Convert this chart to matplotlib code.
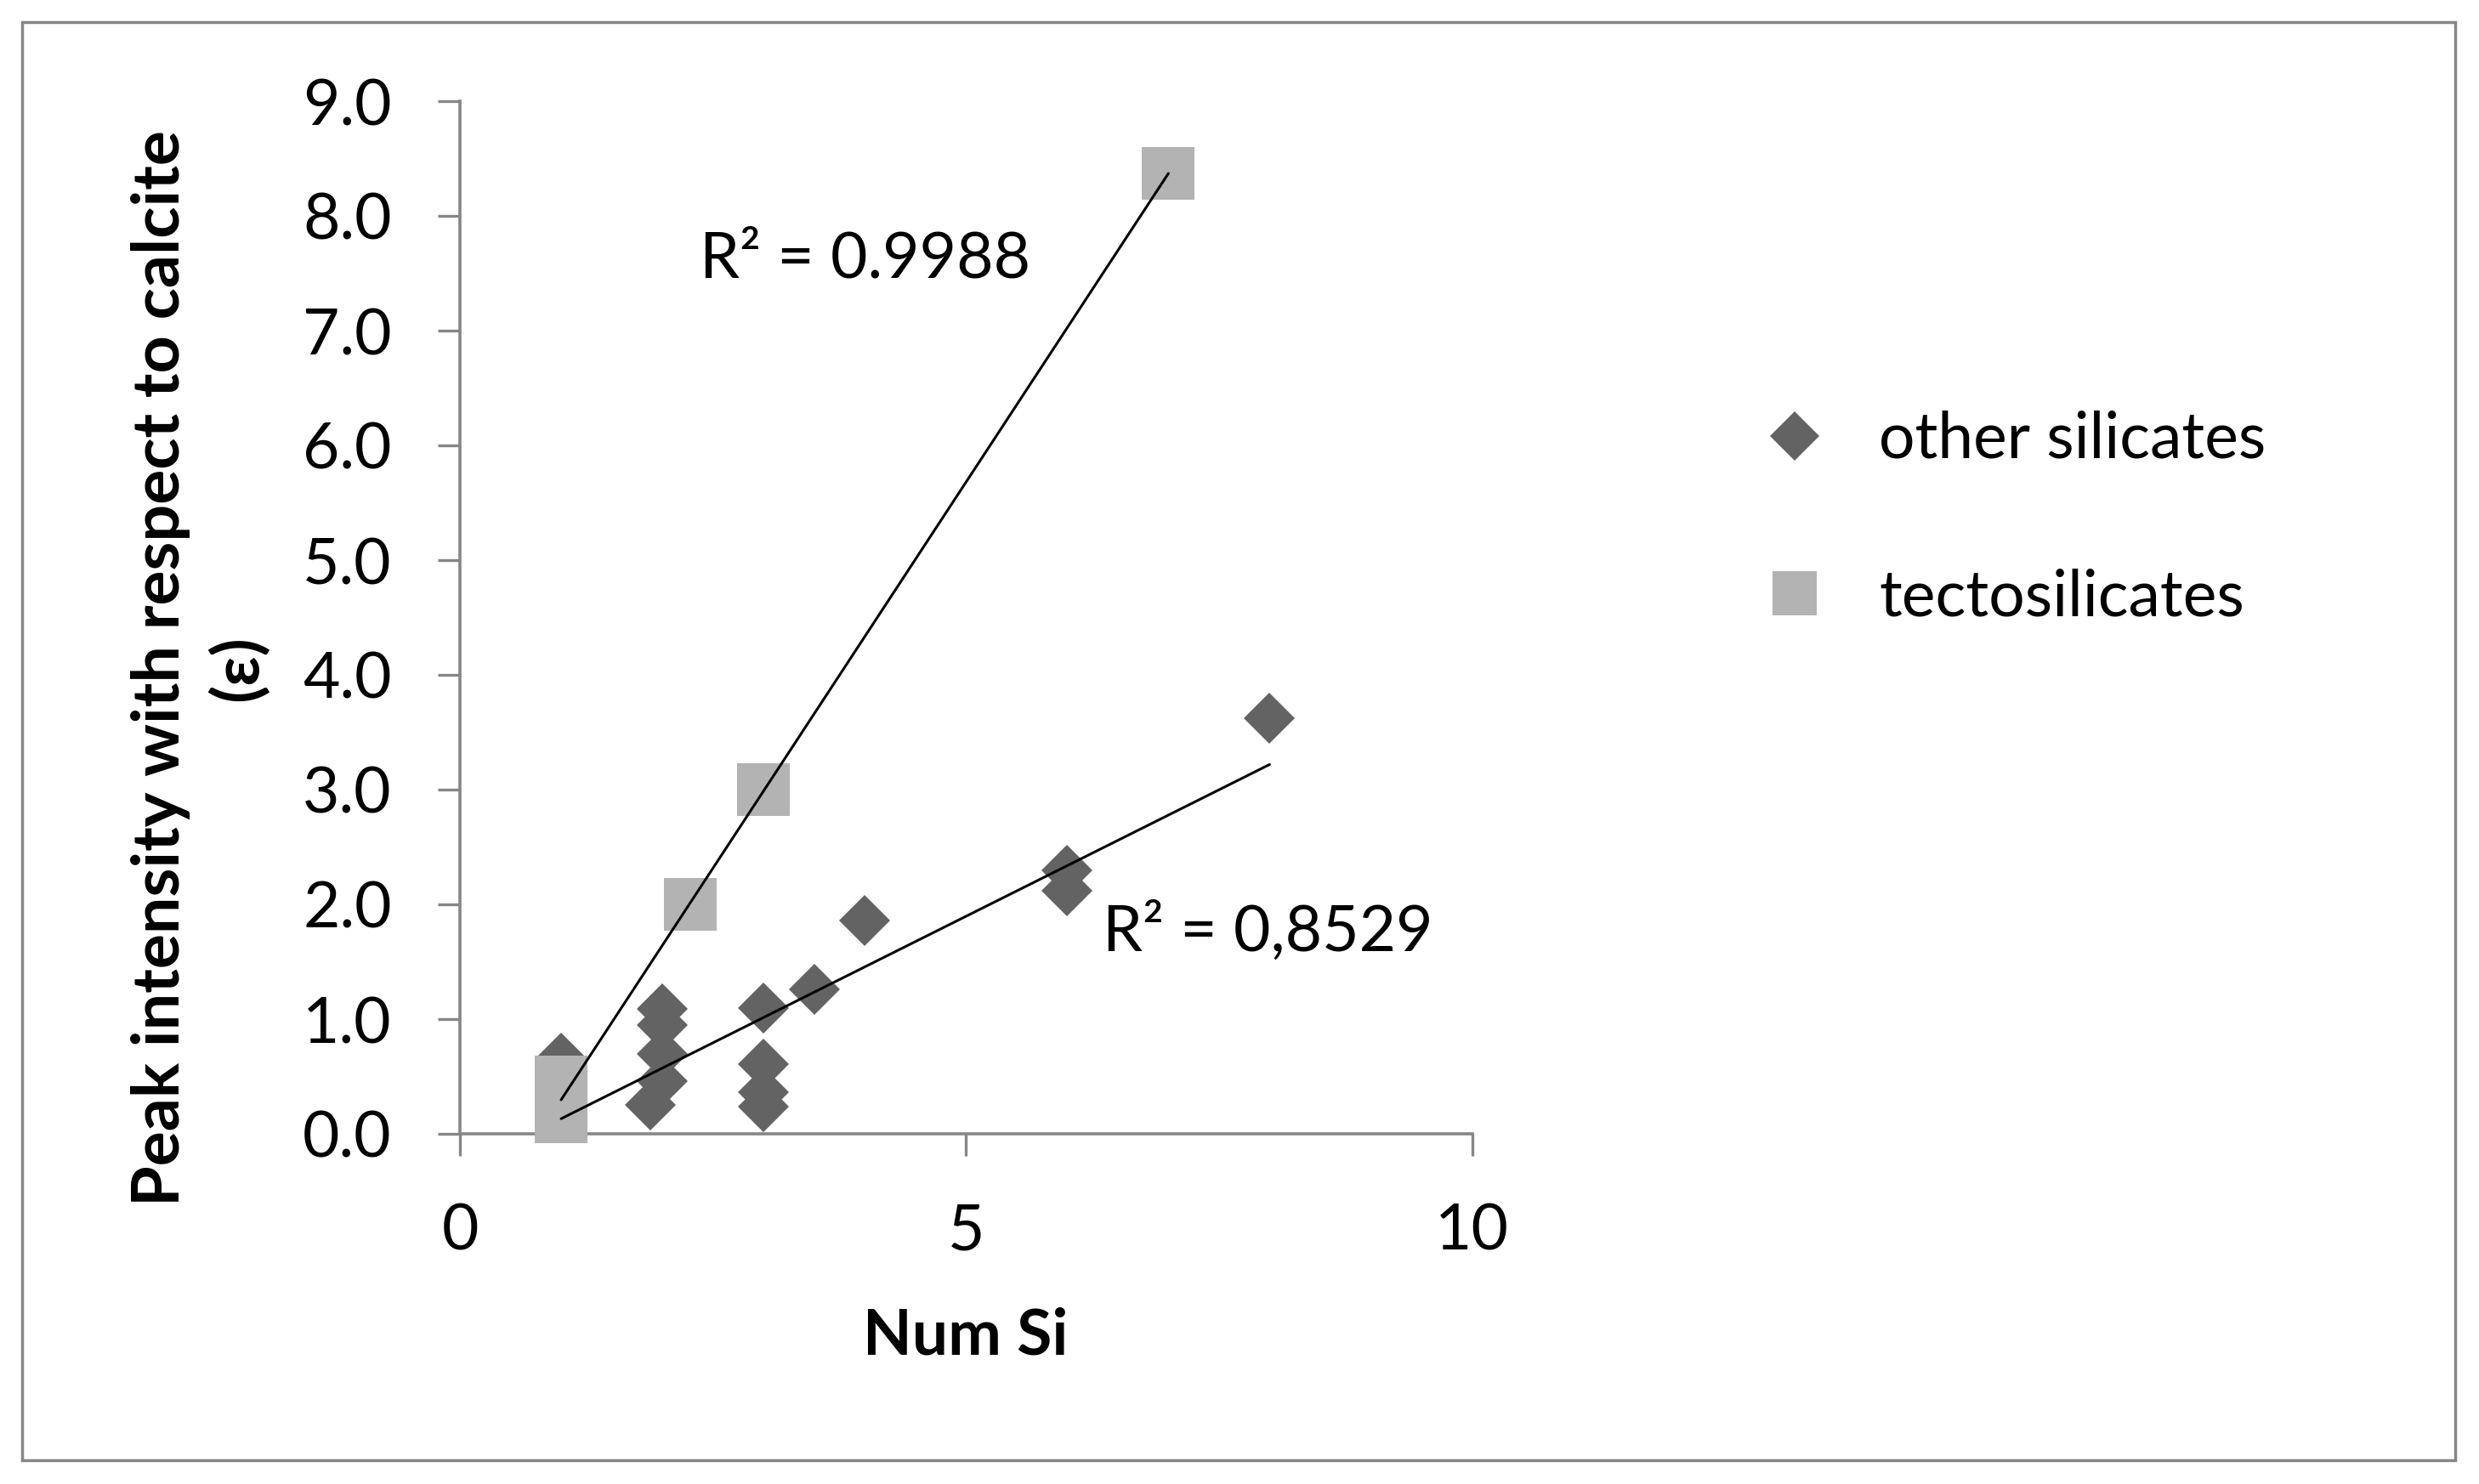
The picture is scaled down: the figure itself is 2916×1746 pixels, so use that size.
import numpy as np
import matplotlib.pyplot as plt
from matplotlib.patches import Rectangle
from matplotlib.lines import Line2D

plt.rcParams['font.family'] = ['Lato', 'DejaVu Sans']

# other silicates (diamonds)
other_x = [1, 2, 2, 2, 2, 1.88, 3, 3, 3, 3, 3.5, 4, 6, 6, 8]
other_y = [0.66, 1.09, 0.95, 0.70, 0.46, 0.25, 1.10, 0.61, 0.36, 0.24,
           1.26, 1.86, 2.30, 2.12, 3.62]

# tectosilicates (squares)
tecto_x = [1, 1, 2.28, 3, 7]
tecto_y = [0.15, 0.45, 2.0, 3.0, 8.37]

R2_TECTO = "R² = 0.9988"
R2_OTHER = "R² = 0,8529"

X_TICKS = [0, 5, 10]
Y_TICKS = np.arange(0, 9.5, 1.0)

DIAMOND_COLOR = "#636363"
SQUARE_COLOR = "#b3b3b3"
AXIS_COLOR = "#868686"
FS = 54

W, H = 2916, 1746
fig = plt.figure(figsize=(W / 100, H / 100), dpi=100)
ax = fig.add_axes([541 / W, 1 - 1334 / H, (1731.5 - 541) / W, (1334 - 119) / H])

ax.plot(other_x, other_y, linestyle="none", marker="D", markersize=31,
        color=DIAMOND_COLOR, markeredgewidth=0, clip_on=False, zorder=3)
ax.plot(tecto_x, tecto_y, linestyle="none", marker="s", markersize=44,
        color=SQUARE_COLOR, markeredgewidth=0, clip_on=False, zorder=4)

# linear trendlines
for xs, ys in [(tecto_x, tecto_y), (other_x, other_y)]:
    xs = np.asarray(xs)
    k, b = np.polyfit(xs, ys, 1)
    xx = np.array([xs.min(), xs.max()])
    ax.plot(xx, k * xx + b, color="black", linewidth=2.2,
            solid_capstyle="round", clip_on=False, zorder=5)

ax.text(2.37, 7.62, R2_TECTO, fontsize=FS, ha="left", va="center")
ax.text(6.35, 1.76, R2_OTHER, fontsize=FS, ha="left", va="center")

ax.set_xlim(0, 10)
ax.set_ylim(0, 9)
ax.set_xticks(X_TICKS)
ax.set_yticks(Y_TICKS)
ax.set_yticklabels([f"{v:.1f}" for v in Y_TICKS])
ax.tick_params(axis="both", direction="out", length=18.7, width=2.4,
               color=AXIS_COLOR, labelsize=FS, pad=39)

for side in ["top", "right"]:
    ax.spines[side].set_visible(False)
for side in ["left", "bottom"]:
    ax.spines[side].set_color(AXIS_COLOR)
    ax.spines[side].set_linewidth(2.6)

fig.text(235 / W, 1 - 786 / H, "Peak intensity with respect to calcite\n(ε)",
         rotation=90, ha="center", va="center", multialignment="center",
         fontsize=55.5, fontweight="bold", linespacing=1.33)
fig.text(1136 / W, 1 - 1572 / H, "Num Si", ha="center", va="center",
         fontsize=FS, fontweight="bold")

handles = [
    Line2D([], [], linestyle="none", marker="D", markersize=30,
           color=DIAMOND_COLOR, markeredgewidth=0),
    Line2D([], [], linestyle="none", marker="s", markersize=38,
           color=SQUARE_COLOR, markeredgewidth=0),
]
fig.legend(handles, ["other silicates", "tectosilicates"],
           loc="center left", bbox_to_anchor=(2036 / W, 1 - 610 / H),
           frameon=False, fontsize=FS, handlelength=1.0,
           handletextpad=0.82, labelspacing=1.55, borderpad=0)

fig.patches.append(Rectangle((26 / W, 1 - 1718 / H), (2888 - 26) / W,
                             (1718 - 26) / H, transform=fig.transFigure,
                             fill=False, edgecolor=AXIS_COLOR, linewidth=2.5))

fig.savefig("out.png", dpi=100)
